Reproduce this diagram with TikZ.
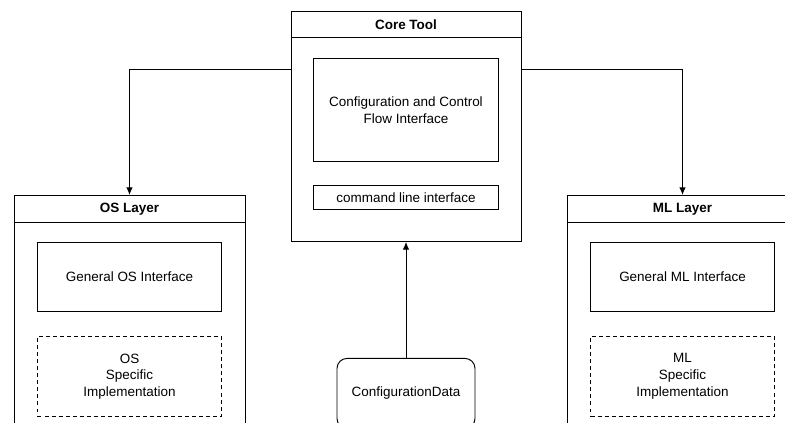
\documentclass[tikz,border=0pt]{standalone}
\usepackage{fontspec}
\setmainfont{Liberation Sans}
\usetikzlibrary{shapes,
                arrows.meta,
                positioning,
                fit}
\tikzset{layer/.style=
   {rectangle,
    draw,
    line width=0.8pt,
    minimum width=6.93cm,
    minimum height=8cm}}
\tikzset{title/.style=
   {rectangle,
    draw,
    line width=0.8pt,
    minimum width=6.93cm,
    minimum height=0.81cm,
    font=\fontsize{11.5}{14.2}\selectfont\bfseries}}
\tikzset{block/.style=
   {rectangle,
    draw,
    line width=0.8pt,
    text centered,
    align=center,
    minimum width=5.52cm,
    font=\fontsize{11.5}{14.2}\selectfont}}
\tikzset{impl/.style={block, dash pattern=on 3.4pt off 2.6pt}}
\tikzset{arrow/.style = {draw, line width=0.8pt, -{Latex[length=6.5pt, width=5.5pt]}}}

\begin{document}
\begin{tikzpicture}[x=0.03cm, y=-0.03cm]

    \clip (0,0) rectangle (785,423);

    % Core tool
    \node [layer, minimum width=6.9cm, minimum height=6.9cm, anchor=north] (core) at (406,11) {};
    \node [title, minimum width=6.9cm, minimum height=0.78cm, anchor=north] (coretitle) at (core.north) {Core Tool};
    \node [block, minimum width=5.55cm, minimum height=3.09cm, below=0.6cm of coretitle] (ccf) {Configuration and Control\\Flow Interface};
    \node [block, minimum width=5.55cm, minimum height=0.72cm, below=0.69cm of ccf] (cli) {command line interface};

    % Layers
    \node [layer, anchor=north] (os) at (129.5,195) {};
    \node [layer, right of=os, node distance=16.59cm] (ml) {};
    \node [title, anchor=north] (ostitle) at (os.north) {OS Layer};
    \node [title, anchor=north] (mltitle) at (ml.north) {ML Layer};

    \node [block, minimum height=2.07cm, below=0.57cm of ostitle] (osgen) {General OS Interface};
    \node [impl, minimum height=2.4cm, below=0.72cm of osgen] (osimpl) {OS\\Specific\\Implementation};
    \node [block, minimum height=2.07cm, below=0.57cm of mltitle] (mlgen) {General ML Interface};
    \node [impl, minimum height=2.4cm, below=0.72cm of mlgen] (mlimpl) {ML\\Specific\\Implementation};

    % Config data
    \node [block, rounded corners=0.3cm, minimum width=4.14cm, minimum height=2.1cm, below=3.48cm of core] (data) {ConfigurationData};

    % Draw edges
    \path [arrow] ([yshift = 1.71cm] core.west) -| (os.north);
    \path [arrow] ([yshift = 1.71cm] core.east) -| (ml.north);
    \path [arrow] (data.north) -- (core.south);

\end{tikzpicture}
\end{document}
